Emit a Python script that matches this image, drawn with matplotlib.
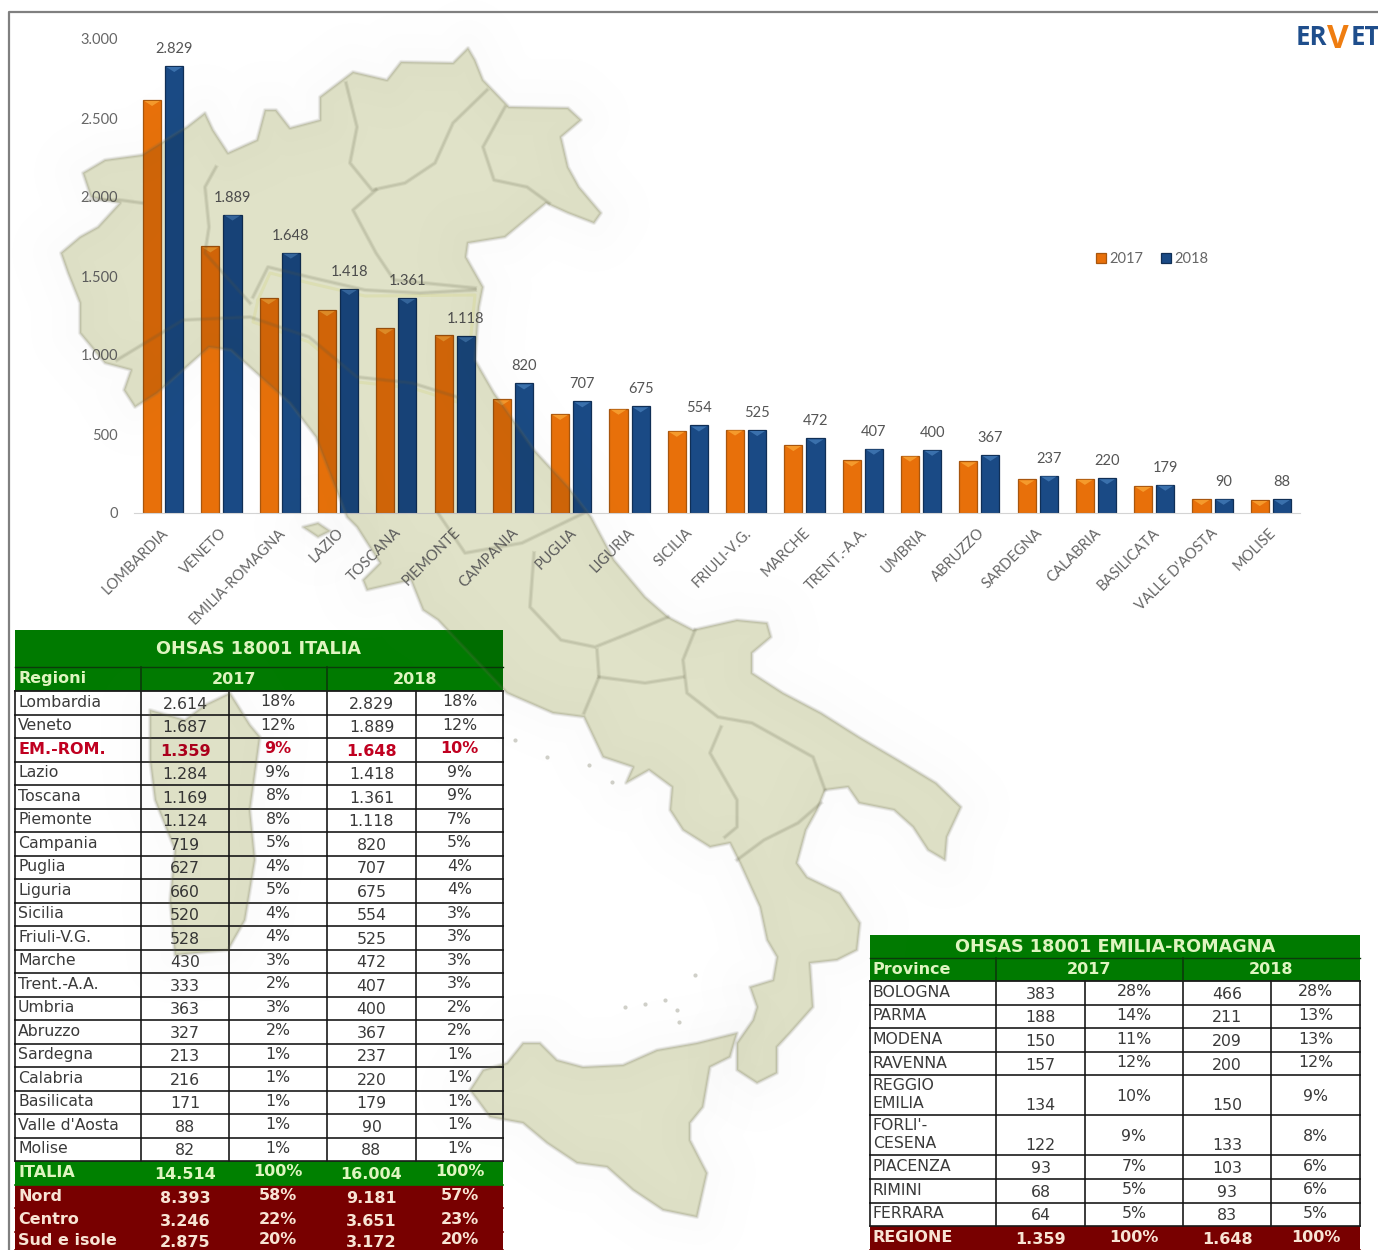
import matplotlib
matplotlib.use('Agg')
import matplotlib.pyplot as plt
from matplotlib.patches import Polygon, Rectangle
from matplotlib.transforms import Affine2D

W, H = 1378, 1250

regioni = ['Lombardia', 'Veneto', 'EM.-ROM.', 'Lazio', 'Toscana', 'Piemonte', 'Campania', 'Puglia', 'Liguria', 'Sicilia',
           'Friuli-V.G.', 'Marche', 'Trent.-A.A.', 'Umbria', 'Abruzzo', 'Sardegna', 'Calabria', 'Basilicata',
           "Valle d'Aosta", 'Molise']
categorie = ['LOMBARDIA', 'VENETO', 'EMILIA-ROMAGNA', 'LAZIO', 'TOSCANA', 'PIEMONTE', 'CAMPANIA', 'PUGLIA', 'LIGURIA',
             'SICILIA', 'FRIULI-V.G.', 'MARCHE', 'TRENT.-A.A.', 'UMBRIA', 'ABRUZZO', 'SARDEGNA', 'CALABRIA',
             'BASILICATA', "VALLE D'AOSTA", 'MOLISE']
val_2017 = [2614, 1687, 1359, 1284, 1169, 1124, 719, 627, 660, 520, 528, 430, 333, 363, 327, 213, 216, 171, 88, 82]
val_2018 = [2829, 1889, 1648, 1418, 1361, 1118, 820, 707, 675, 554, 525, 472, 407, 400, 367, 237, 220, 179, 90, 88]
pct_2017 = [18, 12, 9, 9, 8, 8, 5, 4, 5, 4, 4, 3, 2, 3, 2, 1, 1, 1, 1, 1]
pct_2018 = [18, 12, 10, 9, 9, 7, 5, 4, 4, 3, 3, 3, 3, 2, 2, 1, 1, 1, 1, 1]

tot_nomi = ['ITALIA', 'Nord', 'Centro', 'Sud e isole']
tot_2017 = [14514, 8393, 3246, 2875]
tot_p17 = [100, 58, 22, 20]
tot_2018 = [16004, 9181, 3651, 3172]
tot_p18 = [100, 57, 23, 20]

province = ['BOLOGNA', 'PARMA', 'MODENA', 'RAVENNA', 'REGGIO\nEMILIA', "FORLI'-\nCESENA", 'PIACENZA', 'RIMINI', 'FERRARA']
prov_2017 = [383, 188, 150, 157, 134, 122, 93, 68, 64]
prov_p17 = [28, 14, 11, 12, 10, 9, 7, 5, 5]
prov_2018 = [466, 211, 209, 200, 150, 133, 103, 93, 83]
prov_p18 = [28, 13, 13, 12, 9, 8, 6, 6, 5]
reg_2017, reg_p17, reg_2018, reg_p18 = 1359, 100, 1648, 100

# background map outline, in picture pixels
map_main = [(61, 253), (80, 237), (98, 227), (120, 203), (91, 197), (83, 173), (105, 160), (142, 155), (187, 127),
            (205, 113), (213, 130), (228, 153), (257, 140), (265, 110), (276, 110), (290, 128), (320, 120), (320, 97),
            (353, 72), (387, 80), (401, 62), (453, 63), (468, 48), (475, 60), (483, 80), (509, 107), (568, 108),
            (581, 120), (561, 137), (568, 167), (579, 187), (601, 213), (594, 223), (568, 213), (546, 203), (505, 237),
            (468, 243), (466, 257), (483, 287), (479, 307), (475, 360), (494, 393), (534, 450), (568, 487), (591, 517),
            (614, 560), (645, 597), (668, 617), (693, 630), (737, 620), (767, 623), (771, 637), (752, 653), (752, 673),
            (783, 693), (821, 713), (859, 737), (898, 760), (936, 783), (961, 807), (947, 837), (945, 860), (928, 850),
            (913, 827), (894, 810), (859, 803), (848, 787), (825, 790), (817, 810), (806, 830), (797, 863), (807, 877),
            (840, 893), (860, 923), (857, 950), (837, 960), (810, 963), (813, 1007), (790, 1033), (777, 1047),
            (777, 1073), (757, 1083), (737, 1070), (737, 1043), (753, 1020), (757, 1007), (750, 987), (773, 980),
            (777, 957), (767, 940), (760, 907), (740, 863), (730, 843), (710, 847), (683, 830), (670, 810), (672, 787),
            (649, 770), (626, 783), (633, 767), (603, 757), (584, 717), (553, 713), (507, 693), (438, 620), (423, 610),
            (411, 580), (367, 590), (363, 580), (380, 563), (357, 527), (347, 517), (316, 437), (290, 403), (261, 377),
            (231, 350), (209, 347), (183, 370), (157, 393), (135, 407), (124, 390), (131, 370), (105, 363), (80, 333),
            (80, 303), (68, 273)]
map_sicilia = [(470, 1090), (483, 1070), (507, 1063), (523, 1043), (540, 1043), (557, 1060), (583, 1067), (623, 1065),
               (657, 1050), (697, 1043), (737, 1033), (730, 1057), (710, 1067), (703, 1107), (690, 1123), (690, 1140),
               (707, 1173), (697, 1217), (663, 1210), (633, 1190), (607, 1167), (577, 1163), (547, 1143), (523, 1123),
               (490, 1117)]
map_sardegna = [(150, 710), (185, 720), (205, 705), (230, 693), (250, 725), (260, 737), (250, 810), (255, 860),
                (245, 920), (228, 950), (175, 955), (170, 900), (175, 850), (155, 800), (150, 760)]
map_elba = [(303, 527), (318, 523), (330, 531), (318, 537)]
map_isole = [(515, 740), (547, 757), (589, 765), (612, 782), (695, 975), (625, 1007), (645, 1004), (665, 1000),
             (677, 1010), (679, 1022)]
map_confini = [
    [(346, 83), (357, 127), (350, 163), (372, 190), (405, 183), (435, 163), (453, 123), (487, 90)],
    [(505, 107), (483, 147), (494, 180), (527, 187), (549, 203)],
    [(376, 190), (353, 210), (376, 253), (394, 280), (475, 288)],
    [(475, 290), (420, 293), (365, 290), (309, 277), (268, 267), (253, 297)],
    [(216, 167), (205, 187), (209, 227), (205, 253), (250, 303)],
    [(117, 360), (183, 320), (250, 317), (309, 337), (357, 377), (412, 383), (457, 397)],
    [(87, 200), (120, 200), (142, 203)],
    [(438, 513), (465, 553), (522, 543), (584, 513)],
    [(534, 553), (530, 607), (561, 640), (595, 647), (630, 633), (668, 617)],
    [(597, 650), (599, 677), (584, 713)],
    [(599, 677), (645, 683), (683, 677)],
    [(695, 630), (683, 660), (687, 693), (718, 717), (752, 723), (813, 757), (825, 790)],
    [(721, 727), (710, 753), (737, 800), (737, 827), (725, 837)],
    [(737, 860), (764, 840), (798, 823), (821, 803)],
]
map_emilia = [(258, 300), (270, 273), (309, 283), (365, 296), (475, 295), (470, 345), (457, 402), (412, 388), (357, 382),
              (309, 342), (253, 322), (258, 300)]


def fmt(v):
    return f'{v:,}'.replace(',', '.')


fig = plt.figure(figsize=(W / 100, H / 100), dpi=100, facecolor='white')

# pixel layer for frame, map fill and tables
px = fig.add_axes([0, 0, 1, 1], zorder=0)
px.set_xlim(0, W)
px.set_ylim(H, 0)
px.axis('off')
for shape in (map_main, map_sicilia, map_sardegna, map_elba):
    px.add_patch(Polygon(shape, closed=True, fc='#fafcdf', ec='none'))
px.plot(*zip(*map_emilia), color='#f6f8c8', lw=2.2)
px.plot([9, 9, W], [H, 12, 12], color='#808080', lw=1.6)

VERDE = '#007a00'
ROSSO = '#780000'
CHIARO = '#dff5c0'
ROSA = '#f8e4d4'
TESTO = '#3a3a3a'
LINEA = '#1a1a1a'
FS = 11.3


def header(cols, y0, y1, y2, titolo, prima):
    x0, x1 = cols[0], cols[-1]
    px.add_patch(Rectangle((x0, y0), x1 - x0, y2 - y0, fc=VERDE, ec='none'))
    px.plot([x0, x1], [y1, y1], color='#0c3a0c', lw=1)
    px.plot([x0, x1], [y2, y2], color=LINEA, lw=1.3)
    for c in (cols[1], cols[3]):
        px.plot([c, c], [y1, y2], color='#0c3a0c', lw=1.2)
    px.text((x0 + x1) / 2, (y0 + y1) / 2, titolo, ha='center', va='center', color=CHIARO, weight='bold', fontsize=12.7)
    px.text(x0 + 3, (y1 + y2) / 2, prima, ha='left', va='center', color=CHIARO, weight='bold', fontsize=11.5)
    px.text((cols[1] + cols[3]) / 2, (y1 + y2) / 2, '2017', ha='center', va='center', color=CHIARO, weight='bold', fontsize=11.5)
    px.text((cols[3] + cols[5]) / 2, (y1 + y2) / 2, '2018', ha='center', va='center', color=CHIARO, weight='bold', fontsize=11.5)


def riga(cols, y0, y1, nome, v17, p17, v18, p18, colore=TESTO, peso='normal', fondo=None, alto=False):
    mid = (y0 + y1) / 2
    if fondo:
        px.add_patch(Rectangle((cols[0], y0), cols[-1] - cols[0], y1 - y0, fc=fondo, ec='none'))
    else:
        for c in cols:
            px.plot([c, c], [y0, y1], color=LINEA, lw=1.2)
    px.plot([cols[0], cols[-1]], [y1, y1], color=LINEA if not fondo else fondo, lw=1.2)
    fs = 11.5 if peso == 'bold' else FS
    px.text(cols[0] + 3, mid - 0.5, nome, ha='left', va='center', color=colore, weight=peso, fontsize=fs, linespacing=1.25)
    yn = y1 - 10 if alto else mid + 1.5
    yp = mid + 1 if alto else mid - 1
    px.text((cols[1] + cols[2]) / 2, yn, fmt(v17), ha='center', va='center', color=colore, weight=peso, fontsize=fs)
    px.text((cols[2] + cols[3]) / 2, yp, f'{p17}%', ha='center', va='center', color=colore, weight=peso, fontsize=fs)
    px.text((cols[3] + cols[4]) / 2, yn, fmt(v18), ha='center', va='center', color=colore, weight=peso, fontsize=fs)
    px.text((cols[4] + cols[5]) / 2, yp, f'{p18}%', ha='center', va='center', color=colore, weight=peso, fontsize=fs)


# table Italia
cols_it = [15, 141, 229, 327, 416, 503]
header(cols_it, 630, 667, 691, 'OHSAS 18001 ITALIA', 'Regioni')
y = 691
for i, nome in enumerate(regioni):
    em = nome == 'EM.-ROM.'
    riga(cols_it, y, y + 23.5, nome, val_2017[i], pct_2017[i], val_2018[i], pct_2018[i],
         colore='#c00020' if em else TESTO, peso='bold' if em else 'normal')
    y += 23.5
for i, nome in enumerate(tot_nomi):
    # last row stops at the picture's edge
    riga(cols_it, y, min(y + 23.7, H - 0.5), nome, tot_2017[i], tot_p17[i], tot_2018[i], tot_p18[i],
         colore=CHIARO if i == 0 else ROSA, peso='bold', fondo='#008000' if i == 0 else ROSSO)
    y += 23.7

# table Emilia-Romagna
cols_er = [870, 996, 1085, 1183, 1271, 1360]
header(cols_er, 935, 958, 981, 'OHSAS 18001 EMILIA-ROMAGNA', 'Province')
y = 981
for i, nome in enumerate(province):
    doppia = '\n' in nome
    h = 40 if doppia else 23.6
    riga(cols_er, y, y + h, nome, prov_2017[i], prov_p17[i], prov_2018[i], prov_p18[i], alto=doppia)
    y += h
riga(cols_er, y, H, 'REGIONE', reg_2017, reg_p17, reg_2018, reg_p18, colore=ROSA, peso='bold', fondo=ROSSO)

# logo
logo = dict(family='Open Sans', weight='bold', va='baseline', clip_on=True)
px.text(1296, 45, 'ER', color='#1f4e8c', ha='left', fontsize=18.5, **logo)
px.text(1338, 48, 'V', color='#ef7d10', ha='center', fontsize=24, **logo)
px.text(1351, 45, 'ET', color='#1f4e8c', ha='left', fontsize=18.5, **logo)

# bar chart
ax = fig.add_axes([134 / W, 1 - 513 / H, (1300 - 134) / W, (513 - 39) / H], zorder=1)
ax.patch.set_alpha(0)
ARANCIO = '#e8700a'
BLU = '#1a4a85'
w = 0.31
off = 0.19
xs = list(range(len(categorie)))
b17 = ax.bar([x - off for x in xs], val_2017, w, color=ARANCIO, edgecolor='#a8560e', lw=0.9, label='2017')
b18 = ax.bar([x + off for x in xs], val_2018, w, color=BLU, edgecolor='#102f56', lw=0.9, label='2018')
for bars, luce in ((b17, '#f59a2c'), (b18, '#3a70ac')):
    for b in bars:
        xl, xr, top = b.get_x(), b.get_x() + b.get_width(), b.get_height()
        ax.fill([xl + 0.02, xr - 0.02, (xl + xr) / 2], [top - 6, top - 6, top - 38], color=luce, lw=0)
for x, v in zip(xs, val_2018):
    ax.annotate(fmt(v), (x + off, v), xytext=(0, 10), textcoords='offset pixels', ha='center', va='bottom',
                color='#555555', fontsize=10.5, family='Lato')
ax.set_xlim(-0.5, len(categorie) - 0.5)
ax.set_ylim(0, 3000)
ax.set_yticks([0, 500, 1000, 1500, 2000, 2500, 3000])
ax.set_yticklabels([fmt(t) for t in ax.get_yticks()], family='Lato', fontsize=10.5, color='#666666')
ax.set_xticks(xs)
ax.set_xticklabels(categorie, rotation=45, ha='right', rotation_mode='anchor', family='Lato', fontsize=10.5, color='#666666')
ax.tick_params(axis='y', length=0, pad=11.5)
ax.tick_params(axis='x', length=0, pad=9)
for lab in ax.get_xticklabels():
    lab.set_transform(lab.get_transform() + Affine2D().translate(-2, 0))
for s in ('top', 'left', 'right'):
    ax.spines[s].set_visible(False)
ax.spines['bottom'].set_color('#d4d4d4')

leg = fig.legend(handles=[b17, b18], loc='center', bbox_to_anchor=(1152 / W, 1 - 259 / H), ncol=2, frameon=False,
                 handlelength=0.7, handleheight=0.7, handletextpad=0.2, columnspacing=1.2,
                 prop={'family': 'Lato', 'size': 10.5}, labelcolor='#666666')

# faint shade over everything, so bars and cells darken where the map crosses them
mp = fig.add_axes([0, 0, 1, 1], zorder=3)
mp.set_xlim(0, W)
mp.set_ylim(H, 0)
mp.axis('off')
for shape in (map_main, map_sicilia, map_sardegna, map_elba):
    for lw in (70, 40, 20):
        mp.add_patch(Polygon(shape, closed=True, fc='none', ec='#808080', lw=lw, alpha=0.006, joinstyle='round'))
    mp.add_patch(Polygon(shape, closed=True, fc='black', ec='none', alpha=0.1))
    mp.add_patch(Polygon(shape, closed=True, fc='none', ec='#6a6a50', lw=3, alpha=0.1, joinstyle='round'))
    mp.add_patch(Polygon(shape, closed=True, fc='none', ec='#6a6a50', lw=1.5, alpha=0.16, joinstyle='round'))
for tratto in map_confini:
    mp.plot(*zip(*tratto), color='#5a5a40', lw=3, alpha=0.1, solid_joinstyle='round')
    mp.plot(*zip(*tratto), color='#5a5a40', lw=1.5, alpha=0.12, solid_joinstyle='round')
mp.scatter(*zip(*map_isole), s=9, color='#8a8a78', alpha=0.4, lw=0)

fig.savefig('out.png', dpi=100)
